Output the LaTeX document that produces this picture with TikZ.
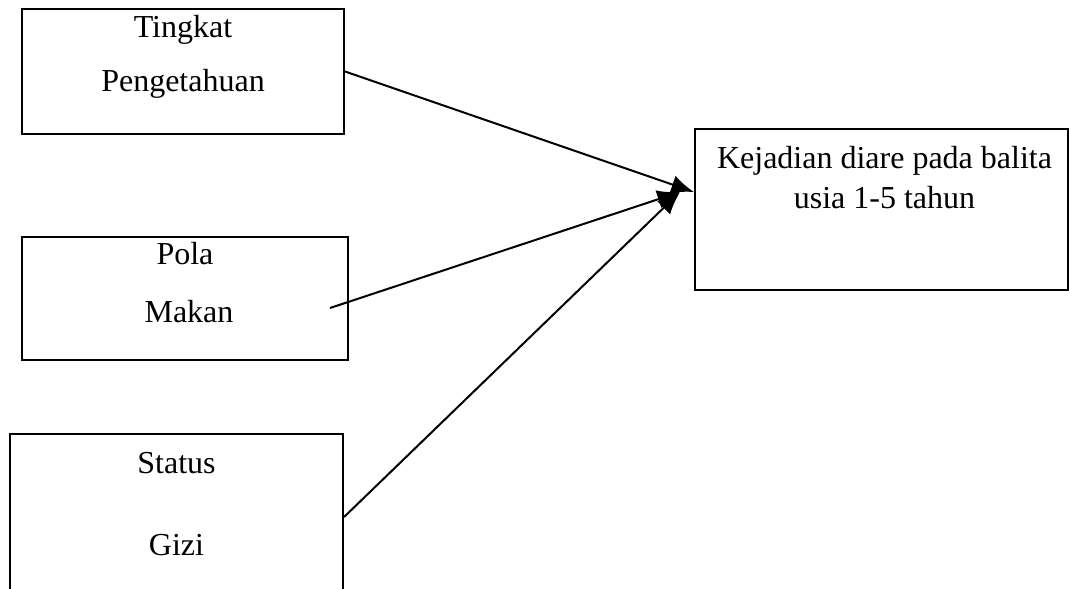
\documentclass[tikz,border=0pt]{standalone}
\usepackage{fontspec}
\setmainfont{Liberation Serif}
\usetikzlibrary{arrows.meta,positioning}
\newcommand{\pxu}{0.375pt}
\begin{document}
\begin{tikzpicture}[x=\pxu, y=-\pxu, >={Latex[length=8.5pt,width=7pt]}]
	\tikzstyle{box} = [draw, line width=0.8pt, inner sep=0pt]
	\tikzstyle{txt} = [align=center, inner sep=0pt, anchor=base, font=\fontsize{12}{14.4}\selectfont]
	\useasboundingbox (0,0) rectangle (1070,588);

	% kotak-kotak
	\node[box, minimum width=322*\pxu, minimum height=125*\pxu] (tingkat) at (183,71.5) {};
	\node[box, minimum width=326*\pxu, minimum height=123*\pxu] (pola) at (185,298.5) {};
	\node[box, minimum width=333*\pxu, minimum height=166*\pxu] (status) at (176.5,517) {};
	\node[box, minimum width=373*\pxu, minimum height=161*\pxu] (kejadian) at (881.5,209.5) {};

	% tulisan
	\node[txt] (tingkattxt) at ([yshift=-84*\pxu]tingkat.north) {Tingkat\\[5.85pt]Pengetahuan};
	\node[txt] (polatxt) at ([yshift=-87*\pxu]pola.north) {Pola\\[7.35pt]\hspace*{3pt}Makan};
	\node[txt] (statustxt) at ([yshift=-123*\pxu]status.north) {Status\\[16.35pt]Gizi};
	\node[txt] (kejadiantxt) at ([xshift=3*\pxu,yshift=-81*\pxu]kejadian.north) {Kejadian diare pada balita\\[0.6pt]usia 1-5 tahun};

	\coordinate (polaend) at (330,308);
	\coordinate (hit1) at (694,192);
	\coordinate (hit2) at (680,192);

	\path[->, line width=0.75pt]
	(tingkat.east) edge (hit1)
	(polaend) edge (hit2)
	(status.east) edge (hit2)
	;
\end{tikzpicture}
\end{document}
